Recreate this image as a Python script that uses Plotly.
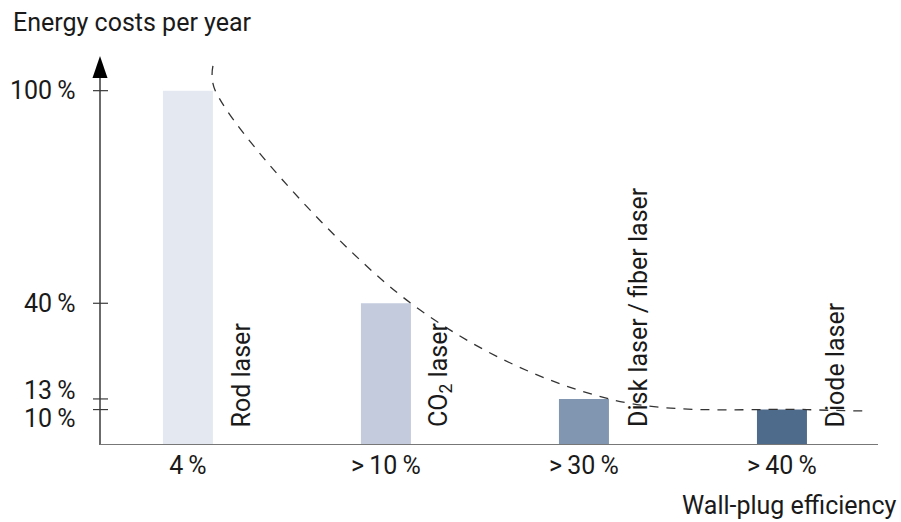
import plotly.graph_objects as go

# Relative yearly energy cost for each laser type (percent of rod laser)
energy_cost = [100, 40, 13, 10]
efficiency_labels = ["4\u2009%", ">\u200910\u2009%", ">\u200930\u2009%", ">\u200940\u2009%"]
laser_types = ["Rod laser", "CO<sub>2</sub> laser", "Disk laser\u2009/\u2009fiber laser", "Diode laser"]
cost_tick_labels = ["100\u2009%", "40\u2009%", "13\u2009%", "10\u2009%"]
bar_colors = ["#e4e9f1", "#c3cbdc", "#8196b1", "#4e6b8b"]

FONT = "Roboto"
FS = 25
INK = "#1a1a1a"

W, H = 901, 522
ML, MR, MT, MB = 100, 23, 40, 77
PW, PH = W - ML - MR, H - MT - MB
X_RANGE = [-0.444, 3.485]
Y_RANGE = [0, 114.3]
BAR_W = 0.2525
PX_PER_UNIT = PH / (Y_RANGE[1] - Y_RANGE[0])
MIN_LABEL_GAP = 28  # pixels between neighbouring y labels

positions = list(range(len(energy_cost)))


def paper_x(px):
    return (px - ML) / PW


def paper_y(py):
    return (H - MB - py) / PH


fig = go.Figure()

fig.add_trace(go.Bar(
    x=positions, y=energy_cost, width=BAR_W,
    marker=dict(color=bar_colors, line=dict(width=0)),
    hoverinfo="skip",
))

# Dashed trend line through the top right corner of every bar
corner_x = [p + BAR_W / 2 for p in positions]
trend_x = [corner_x[0]] + [corner_x[0] + 0.012] + corner_x[1:] + [corner_x[-1] + 0.3]
trend_y = [energy_cost[0] * 1.07] + energy_cost + [energy_cost[-1] * 0.96]
fig.add_trace(go.Scatter(
    x=trend_x, y=trend_y, mode="lines",
    line=dict(color="#333333", width=1.3, dash="9px,8px", shape="spline", smoothing=1.0),
    hoverinfo="skip",
))

shapes = []
# y axis line and arrow
y_top = 103.6
shapes.append(dict(type="line", xref="paper", yref="y", x0=0, x1=0, y0=0, y1=y_top,
                   line=dict(color="#3a3a3a", width=1.5)))
shapes.append(dict(type="path", xref="paper", yref="y", xsizemode="pixel", ysizemode="pixel",
                   xanchor=0, yanchor=y_top, path="M-7.5,0 L7.5,0 L0,22 Z",
                   fillcolor="#000000", line=dict(width=0)))
# x axis line and arrow
shapes.append(dict(type="line", xref="paper", yref="y", x0=0, x1=1, y0=0, y1=0,
                   line=dict(color="#777777", width=2)))
shapes.append(dict(type="path", xref="x", yref="y", xsizemode="pixel", ysizemode="pixel",
                   xanchor=X_RANGE[1], yanchor=0, path="M0,-7.5 L0,7.5 L15,0 Z",
                   fillcolor="#000000", line=dict(width=0)))
# y tick marks crossing the axis
for v in energy_cost:
    shapes.append(dict(type="line", xref="paper", yref="y", xsizemode="pixel",
                       xanchor=0, x0=-7, x1=8, y0=v, y1=v,
                       line=dict(color="#3a3a3a", width=1.2)))

annotations = []

# y tick labels, spread symmetrically where two ticks sit too close together
order = sorted(range(len(energy_cost)), key=lambda i: energy_cost[i])
shifts = [0.0] * len(energy_cost)
for a, b in zip(order, order[1:]):
    gap = (energy_cost[b] - energy_cost[a]) * PX_PER_UNIT + shifts[b] - shifts[a]
    if gap < MIN_LABEL_GAP:
        extra = (MIN_LABEL_GAP - gap) / 2
        shifts[b] += extra
        shifts[a] -= extra
for v, label, s in zip(energy_cost, cost_tick_labels, shifts):
    annotations.append(dict(
        x=0, y=v, xref="paper", yref="y", xshift=-22, yshift=s,
        text=label, showarrow=False, xanchor="right", yanchor="middle",
        font=dict(family=FONT, size=FS, color=INK),
    ))

for p, name in zip(positions, laser_types):
    annotations.append(dict(
        x=p, y=0, xref="x", yref="y", xshift=54, yshift=16,
        text=name, textangle=-90, showarrow=False,
        xanchor="center", yanchor="bottom",
        font=dict(family=FONT, size=FS, color=INK),
    ))

annotations.append(dict(
    x=paper_x(11), y=paper_y(23), xref="paper", yref="paper",
    text="Energy costs per year", showarrow=False, xanchor="left", yanchor="middle",
    font=dict(family=FONT, size=FS, color=INK),
))
annotations.append(dict(
    x=paper_x(898), y=paper_y(505), xref="paper", yref="paper",
    text="Wall-plug efficiency", showarrow=False, xanchor="right", yanchor="middle",
    font=dict(family=FONT, size=FS, color=INK),
))

fig.update_layout(
    width=W, height=H,
    margin=dict(l=ML, r=MR, t=MT, b=MB, pad=0),
    paper_bgcolor="white", plot_bgcolor="white",
    showlegend=False,
    shapes=shapes, annotations=annotations,
    font=dict(family=FONT, size=FS, color=INK),
    xaxis=dict(range=X_RANGE, tickvals=positions, ticktext=efficiency_labels,
               showline=False, showgrid=False, zeroline=False, ticks="",
               ticklabelstandoff=3,
               tickfont=dict(family=FONT, size=FS, color=INK), fixedrange=True),
    yaxis=dict(range=Y_RANGE, tickvals=energy_cost, showticklabels=False,
               showline=False, showgrid=False, zeroline=False, ticks="",
               fixedrange=True),
)

fig.write_html("out.html", config=dict(displayModeBar=False))
